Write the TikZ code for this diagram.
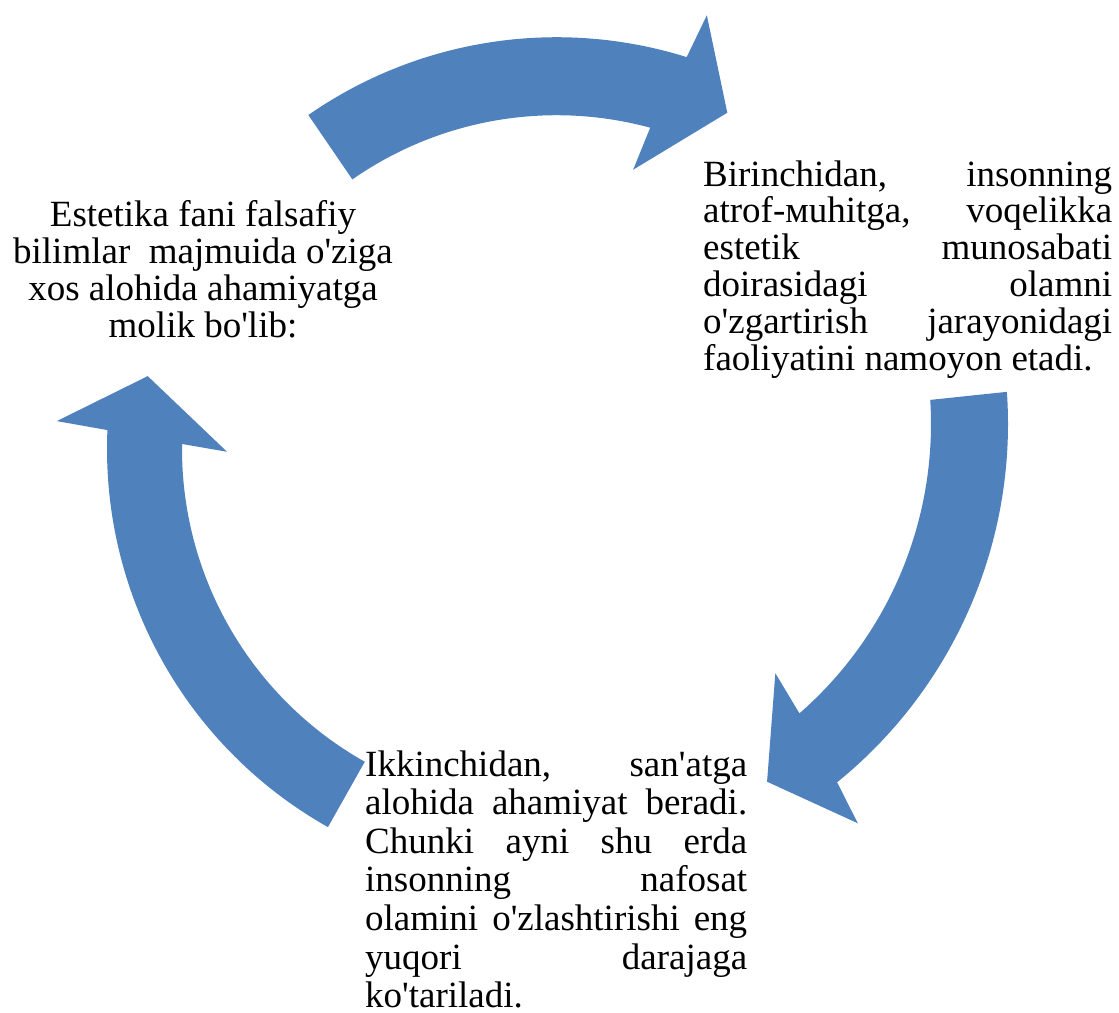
\documentclass[tikz,border=0pt]{standalone}
\usepackage{fontspec}
\newfontfamily\uzfont{Liberation Serif}
\tolerance=10000
\hbadness=10000
\hyphenpenalty=10000
\tikzset{
  blockfill/.style={fill=col},
  justtext/.style={anchor=base west, inner sep=0},
}
\begin{document}
\begin{tikzpicture}[x=1pt, y=-1pt]
\definecolor{col}{HTML}{4F81BD}
\useasboundingbox (0,0) rectangle (1119,1012);
\node[anchor=base, align=center, inner sep=0, font=\uzfont\fontsize{37}{37}\selectfont] (intro) at (203,337) {Estetika fani falsafiy\\ bilimlar~ majmuida o'ziga\\ xos alohida ahamiyatga\\ molik bo'lib:};
\node[justtext, font=\uzfont\fontsize{37}{36.8}\selectfont] (first) at (703,186) {\parbox[t]{409pt}{Birinchidan, insonning\linebreak atrof-мuhitga, voqelikka\linebreak estetik munosabati\linebreak doirasidagi olamni\linebreak o'zgartirish jarayonidagi\linebreak faoliyatini namoyon etadi.}};
\node[justtext, font=\uzfont\fontsize{37}{38.6}\selectfont] (second) at (365,776) {\parbox[t]{382pt}{Ikkinchidan, san'atga\linebreak alohida ahamiyat beradi.\linebreak Chunki ayni shu erda\linebreak insonning nafosat\linebreak olamini o'zlashtirishi eng\linebreak yuqori darajaga\linebreak ko'tariladi.}};
\begin{scope}[shift={(556.6,472.2)}]
\fill[blockfill] (235.2:435) arc[start angle=235.2, end angle=287.4, radius=435] -- (288.2:481) -- (295.4:398) -- (284.2:312) -- (285.2:357) arc[start angle=285.2, end angle=235.1, radius=357] -- cycle;
\end{scope}
\begin{scope}[shift={(547,424)}]
\fill[blockfill] (-4:461) arc[start angle=-4, end angle=51, radius=461] -- (52.1:506) -- (58.4:420) -- (47.5:338) -- (48.9:384) arc[start angle=48.9, end angle=-3.6, radius=384] -- cycle;
\end{scope}
\begin{scope}[shift={(541,449)}]
\fill[blockfill] (119.4:434) arc[start angle=119.4, end angle=182.5, radius=434] -- (183.3:485) -- (190.5:400) -- (179.5:314) -- (180.8:359) arc[start angle=180.8, end angle=119.4, radius=359] -- cycle;
\end{scope}
\end{tikzpicture}
\end{document}
